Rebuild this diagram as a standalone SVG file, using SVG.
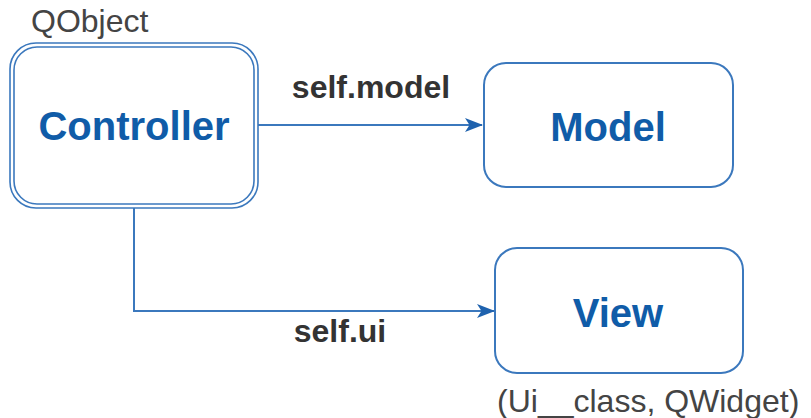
<svg xmlns="http://www.w3.org/2000/svg" width="811" height="418" viewBox="0 0 811 418">
<style>
.box{fill:#fff;stroke:#3b78bd;stroke-width:2}
.thin{fill:none;stroke:#3b78bd;stroke-width:1.6}
.title{font-family:"Liberation Sans",Arial,sans-serif;font-weight:bold;font-size:40px;fill:#105ca8;text-anchor:middle}
.lbl{font-family:"Liberation Sans",Arial,sans-serif;font-weight:bold;font-size:32px;fill:#333;text-anchor:middle}
.note{font-family:"Liberation Sans",Arial,sans-serif;font-size:32px;fill:#444}
.edge{fill:none;stroke:#3b78bd;stroke-width:2}
</style>
<defs>
<marker id="arr" markerWidth="18" markerHeight="14" refX="17" refY="7" orient="auto" markerUnits="userSpaceOnUse">
<path d="M0,0 L18,7 L0,14 L4.5,7 Z" fill="#1f62ae"/>
</marker>
</defs>
<g id="connectors">
<path class="edge" d="M258,125 H482" marker-end="url(#arr)"/>
<path class="edge" d="M134,208 V311 H494" marker-end="url(#arr)"/>
<text class="lbl" x="371" y="98">self.model</text>
<text class="lbl" x="340" y="342">self.ui</text>
</g>
<g id="controller">
<text class="note" x="31" y="32">QObject</text>
<rect class="thin" x="10" y="43" width="248" height="165" rx="26"/>
<rect class="thin" x="14" y="47" width="240" height="157" rx="23"/>
<text class="title" x="134" y="140">Controller</text>
</g>
<g id="model">
<rect class="box" x="484" y="63" width="249" height="124" rx="22"/>
<text class="title" x="608" y="141">Model</text>
</g>
<g id="view">
<rect class="box" x="495" y="248" width="248" height="125" rx="22"/>
<text class="title" x="618" y="327">View</text>
<text class="note" x="497" y="412">(Ui__class, QWidget)</text>
</g>
</svg>
